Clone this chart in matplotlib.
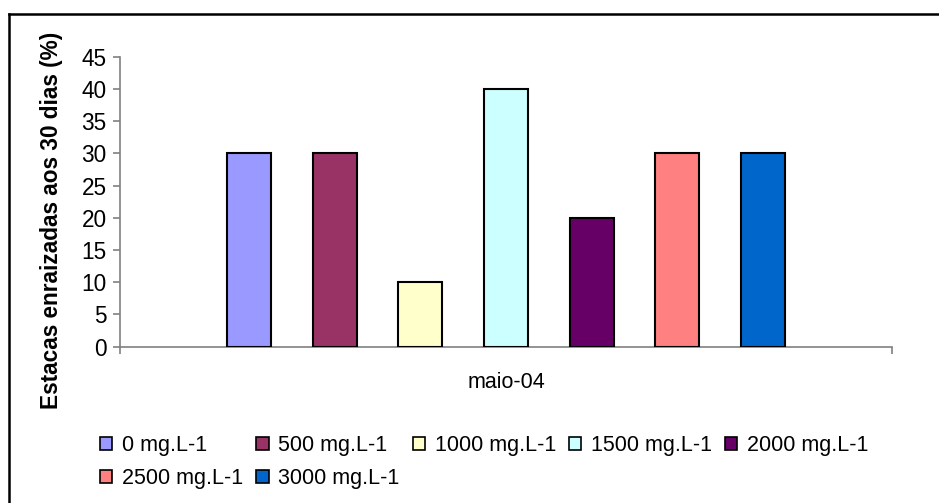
"""
plot.py — Estacas enraizadas aos 30 dias, por concentração (maio-04).
Writes: out.png
"""
import matplotlib
matplotlib.use("Agg")
import matplotlib.pyplot as plt
import matplotlib.patches as mpatches
from matplotlib.lines import Line2D

# ---------------------------------------------------------------------------
# Data
# ---------------------------------------------------------------------------
category = "maio-04"
doses = ["0 mg.L-1", "500 mg.L-1", "1000 mg.L-1", "1500 mg.L-1",
         "2000 mg.L-1", "2500 mg.L-1", "3000 mg.L-1"]
rooted_pct = [30, 30, 10, 40, 20, 30, 30]
colors = ["#9999FF", "#993366", "#FFFFCC", "#CCFFFF",
          "#660066", "#FF8080", "#0066CC"]

plt.rcParams.update({
    "font.family": ["Liberation Sans", "DejaVu Sans"],
    "font.size": 15.5,
})

W, H = 939, 503
fig = plt.figure(figsize=(W / 100, H / 100), dpi=100)

# outer chart frame (top and left edges visible only)
fig.add_artist(Line2D([9 / W, 1.0], [1 - 14 / H, 1 - 14 / H],
                      transform=fig.transFigure, color="black", lw=1.8))
fig.add_artist(Line2D([9 / W, 9 / W], [0.0, 1 - 14 / H],
                      transform=fig.transFigure, color="black", lw=1.8))

ax = fig.add_axes([120.5 / W, 1 - 346.7 / H, 771 / W, 290 / H])

n = len(doses)
step = 1 / 9
width = 0.057
for i, (lab, val, col) in enumerate(zip(doses, rooted_pct, colors)):
    ax.bar(0.5 + (i - (n - 1) / 2) * step, val, width=width, color=col,
           edgecolor="black", linewidth=1.5, label=lab, zorder=3)

ax.set_xlim(0, 1)
ax.set_ylim(0, 45)
ax.set_yticks(range(0, 46, 5))

axis_grey = "#808080"
for side in ("top", "right"):
    ax.spines[side].set_visible(False)
for side in ("left", "bottom"):
    ax.spines[side].set_color(axis_grey)
    ax.spines[side].set_linewidth(1.2)

ax.tick_params(axis="y", direction="out", length=5, width=1.2,
               color=axis_grey, pad=5, labelsize=16.3)
ax.set_xticks([0.5])
ax.set_xticklabels([category])
ax.set_xticks([0, 1], minor=True)
ax.tick_params(axis="x", which="major", length=0, pad=18)
ax.tick_params(axis="x", which="minor", direction="out", length=5,
               width=1.2, color=axis_grey)

fig.text(52 / W, 1 - 220 / H, "Estacas enraizadas aos 30 dias (%)",
         rotation=90, ha="center", va="center", fontsize=16.3,
         fontweight="bold")

# legend laid out row by row like the original (matplotlib fills columns)
handles = [mpatches.Patch(facecolor=c, edgecolor="black", linewidth=1.2,
                          label=l) for l, c in zip(doses, colors)]
order = [0, 5, 1, 6, 2, 3, 4]
fig.legend([handles[i] for i in order], [doses[i] for i in order],
           loc="upper left", bbox_to_anchor=(100 / W, 1 - 435 / H),
           ncol=5, frameon=False, borderpad=0, borderaxespad=0,
           handlelength=0.58, handleheight=0.58, handletextpad=0.45,
           columnspacing=0.6, labelspacing=0.55)

fig.savefig("out.png", dpi=100)
